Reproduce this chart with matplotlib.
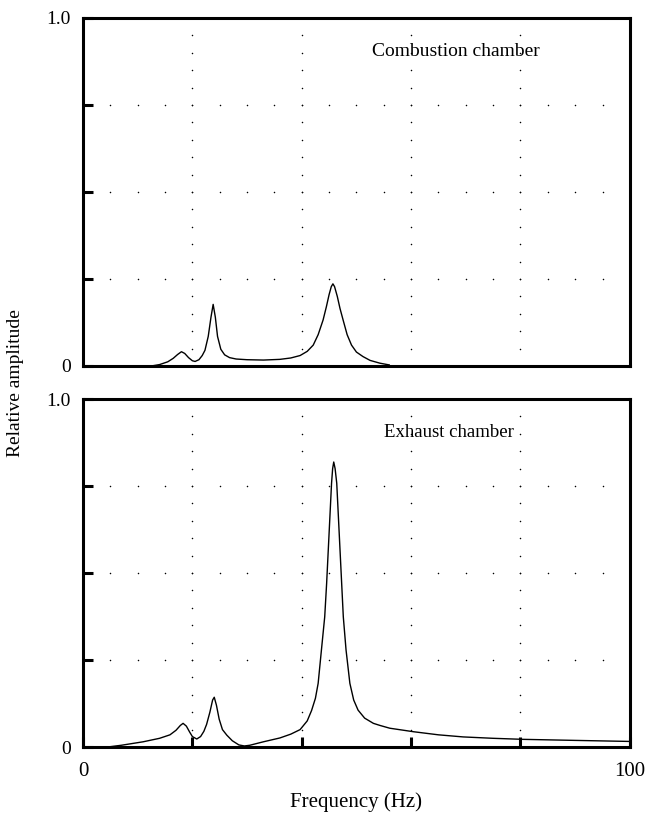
import numpy as np
import matplotlib
matplotlib.use("Agg")
import matplotlib.pyplot as plt

plt.rcParams['font.family'] = ['Liberation Serif', 'DejaVu Serif']

# combustion chamber spectrum (frequency Hz, relative amplitude)
comb_freq = [12.5, 14, 15.5, 16.5, 17.3, 18.0, 18.6, 19.3, 20.0, 20.5, 21.2, 21.8,
             22.3, 22.9, 23.4, 23.8, 24.2, 24.6, 25.2, 25.9, 26.8, 28, 30, 33, 36,
             38, 39.7, 41, 42.1, 43.0, 43.9, 44.5, 45.0, 45.4, 45.7, 46.0, 46.5,
             47.0, 47.6, 48.3, 49.1, 50, 51.2, 52.5, 54.3, 56]
comb_amp = [0.0, 0.004, 0.012, 0.022, 0.033, 0.041, 0.036, 0.024, 0.015, 0.013,
            0.018, 0.03, 0.045, 0.085, 0.14, 0.177, 0.14, 0.085, 0.048, 0.032,
            0.024, 0.02, 0.018, 0.017, 0.019, 0.023, 0.03, 0.042, 0.06, 0.09,
            0.132, 0.17, 0.205, 0.228, 0.236, 0.228, 0.2, 0.165, 0.13, 0.09, 0.06,
            0.04, 0.027, 0.016, 0.008, 0.003]

# exhaust chamber spectrum
exh_freq = [4.5, 7, 11, 14, 15.9, 17.0, 17.8, 18.3, 18.9, 19.5, 20.0, 20.8, 21.5,
            22.1, 22.6, 23.2, 23.7, 24.0, 24.4, 24.9, 25.5, 26.3, 27.3, 28.5, 29.5,
            30.5, 33, 36, 38, 39.7, 41, 41.8, 42.5, 43.0, 43.6, 44.2, 44.55, 44.85,
            45.15, 45.45, 45.65, 45.85, 46.1, 46.4, 46.7, 47.0, 47.3, 47.6, 48.1,
            48.8, 49.5, 50.3, 51.5, 53.1, 54.3, 56.1, 60.4, 65, 69.5, 75, 80.5,
            90, 100]
exh_amp = [0.0, 0.005, 0.015, 0.025, 0.035, 0.048, 0.062, 0.068, 0.06, 0.043, 0.03,
           0.023, 0.03, 0.045, 0.065, 0.1, 0.135, 0.143, 0.12, 0.08, 0.05, 0.034,
           0.018, 0.006, 0.003, 0.005, 0.015, 0.026, 0.037, 0.05, 0.075, 0.105,
           0.14, 0.183, 0.279, 0.374, 0.47, 0.566, 0.662, 0.758, 0.80, 0.819,
           0.80, 0.758, 0.662, 0.566, 0.47, 0.374, 0.279, 0.183, 0.135, 0.106,
           0.083, 0.068, 0.062, 0.054, 0.044, 0.035, 0.029, 0.025, 0.022, 0.019,
           0.016]

panels = [
    (comb_freq, comb_amp, "Combustion chamber", 0.528, 14),
    (exh_freq, exh_amp, "Exhaust chamber", 0.55, 13.5),
]
grid_x = [20, 40, 60, 80]
grid_y = [0.25, 0.5, 0.75]

fig = plt.figure(figsize=(6.46, 8.14), dpi=100)
ax_top = fig.add_axes([0.1285, 0.5504, 0.8465, 0.4275])
ax_bot = fig.add_axes([0.1285, 0.0823, 0.8465, 0.4275])

for ax, (f, a, title, tx, tsize) in zip([ax_top, ax_bot], panels):
    # dotted grid
    dots_y = np.arange(0.05, 1.0, 0.05)
    for gx in grid_x:
        ax.plot([gx] * len(dots_y), dots_y, ls='none', marker='o', ms=1.1,
                color='black', mew=0)
    dots_x = np.arange(5, 100, 5)
    for gy in grid_y:
        ax.plot(dots_x, [gy] * len(dots_x), ls='none', marker='o', ms=1.1,
                color='black', mew=0)

    ax.plot(f, a, color='black', lw=1.0)
    ax.text(tx, 0.905, title, transform=ax.transAxes, fontsize=tsize,
            va='center', ha='left')

    ax.set_xlim(0, 100)
    ax.set_ylim(0, 1.0)
    for s in ax.spines.values():
        s.set_linewidth(2.2)
    ax.set_yticks([0, 0.25, 0.5, 0.75, 1.0])
    ax.set_yticklabels(["0", "", "", "", "1.0"], fontsize=14)
    ax.tick_params(axis='y', direction='in', length=7, width=2.2, pad=9)
    ax.tick_params(axis='x', direction='in', length=7, width=2.2, pad=11,
                   labelsize=15)

ax_top.set_xticks([])
ax_bot.set_xticks([0, 20, 40, 60, 80, 100])
ax_bot.set_xticklabels(["0", "", "", "", "", "100"])
ax_bot.set_xlabel("Frequency (Hz)", fontsize=15, labelpad=8)

fig.text(0.024, 0.53, "Relative amplitude", rotation=90, fontsize=14,
         va='center', ha='center')

fig.savefig("out.png", dpi=100)
